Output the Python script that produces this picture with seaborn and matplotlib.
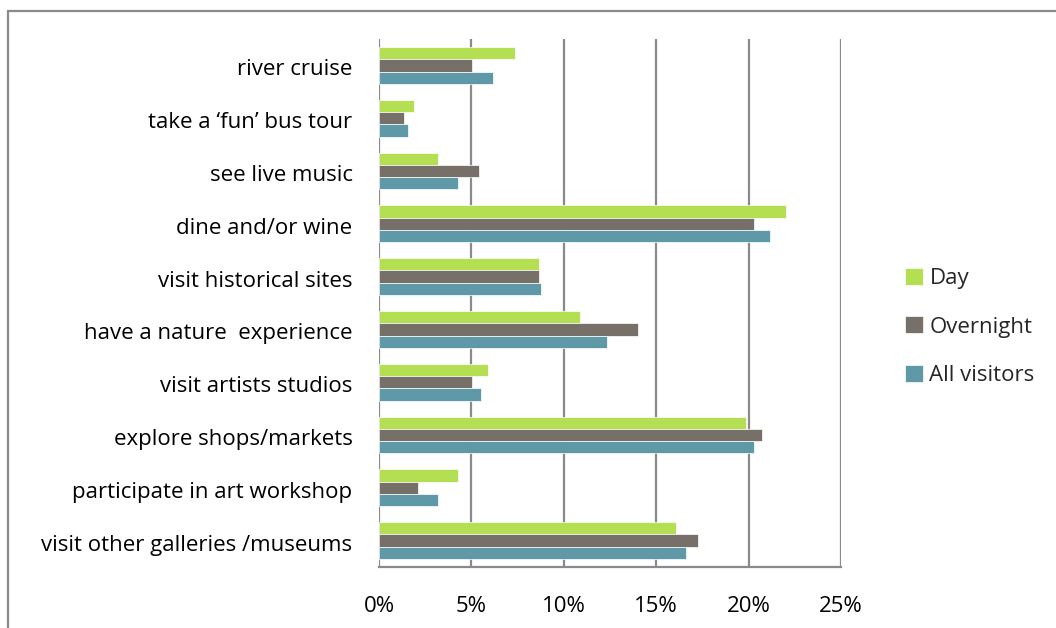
import matplotlib
matplotlib.use("Agg")
import matplotlib.pyplot as plt
from matplotlib.lines import Line2D
from matplotlib.ticker import FuncFormatter
from matplotlib.transforms import ScaledTranslation
import pandas as pd
import seaborn as sns

# Share of visitors (%) taking part in each activity
activities = [
    "river cruise",
    "take a \u2018fun\u2019 bus tour",
    "see live music",
    "dine and/or wine",
    "visit historical sites",
    "have a nature  experience",
    "visit artists studios",
    "explore shops/markets",
    "participate in art workshop",
    "visit other galleries /museums",
]
day = [7.35, 1.9, 3.2, 22.05, 8.65, 10.85, 5.9, 19.85, 4.3, 16.05]
overnight = [5.05, 1.35, 5.4, 20.3, 8.65, 14.0, 5.05, 20.75, 2.1, 17.25]
all_visitors = [6.15, 1.55, 4.3, 21.15, 8.75, 12.35, 5.5, 20.3, 3.2, 16.6]
groups = ["Day", "Overnight", "All visitors"]
colors = ["#b5df52", "#767069", "#5f98a6"]
x_ticks = [0, 5, 10, 15, 20, 25]

df = pd.DataFrame({
    "activity": activities * 3,
    "pct": day + overnight + all_visitors,
    "group": [g for g in groups for _ in activities],
})

sns.set_theme(style="white")
plt.rcParams["font.family"] = ["Open Sans", "DejaVu Sans"]
FS = 16

W, H = 1056, 628
fig = plt.figure(figsize=(W / 100, H / 100), dpi=100)
ax = fig.add_axes([379 / W, 1 - 567 / H, (841 - 379) / W, (567 - 39) / H])

sns.barplot(
    data=df, y="activity", x="pct", hue="group", order=activities,
    hue_order=groups, palette=colors, saturation=1, orient="h", width=0.7,
    edgecolor="white", linewidth=0.5, ax=ax, zorder=3,
)

grid_c = "#8a8a8a"
ax.set_xlim(0, 25)
ax.set_xticks(x_ticks)
ax.xaxis.set_major_formatter(FuncFormatter(lambda v, _: f"{v:.0f}%"))
for v in x_ticks:
    ax.axvline(v, color=grid_c, lw=1.6, zorder=1)
ax.set_ylim(len(activities) - 0.5, -0.5)

for s in ["top", "right", "left"]:
    ax.spines[s].set_visible(False)
ax.spines["bottom"].set_color(grid_c)
ax.spines["bottom"].set_linewidth(1.6)
ax.tick_params(axis="both", length=0, labelsize=FS, colors="black")
ax.tick_params(axis="x", pad=21)
ax.tick_params(axis="y", pad=19)
# nudge category labels slightly down
shift = ScaledTranslation(0, -2 / 100, fig.dpi_scale_trans)
for lbl in ax.get_yticklabels():
    lbl.set_transform(lbl.get_transform() + shift)
ax.set_xlabel("")
ax.set_ylabel("")

# legend to the right of the plot
handles, labels = ax.get_legend_handles_labels()
ax.legend(
    handles, labels, loc="center left",
    bbox_to_anchor=(905 / W, 1 - 327 / H), bbox_transform=fig.transFigure,
    frameon=False, fontsize=FS, handlelength=0.8, handleheight=0.8,
    handletextpad=0.3, labelspacing=1.22, borderpad=0, borderaxespad=0,
)

# chart area frame (top and left edges)
fig.add_artist(Line2D([8 / W, 8 / W], [0, 1 - 11 / H], transform=fig.transFigure,
                      color=grid_c, lw=1.6))
fig.add_artist(Line2D([8 / W, 1], [1 - 11 / H, 1 - 11 / H], transform=fig.transFigure,
                      color=grid_c, lw=1.6))

fig.savefig("out.png", dpi=100, facecolor="white")
